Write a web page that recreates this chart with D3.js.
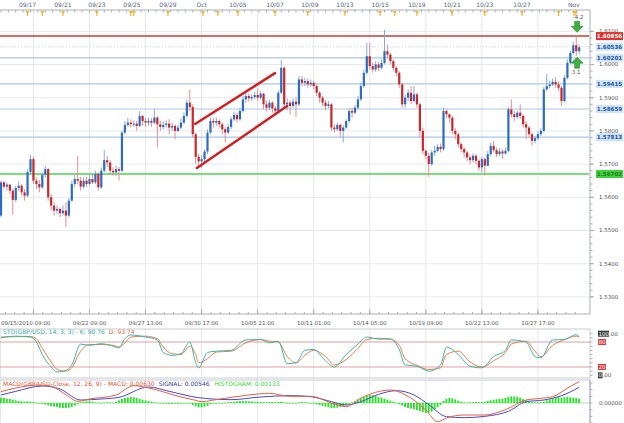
<!DOCTYPE html>
<html><head><meta charset="utf-8">
<script src="https://cdn.jsdelivr.net/npm/d3@7"></script>
<style>
html,body{margin:0;padding:0;background:#fff;}
svg{display:block;font-family:"DejaVu Sans",Verdana,sans-serif;}
</style></head><body>
<svg id="c" width="624" height="423"></svg>
<script>
// ---------- DATA (GBP/USD, 4-hour candles, 09/15/2010 09:00 → Nov 1) ----------
const firstOpen = 1.5545;
const closes = [
1.5645,1.5632,1.5638,1.5620,1.5592,1.5628,1.5635,1.5615,1.5605,1.5676,
1.5715,1.5650,1.5640,1.5630,1.5668,1.5685,1.5600,1.5575,1.5560,1.5565,
1.5552,1.5560,1.5545,1.5590,1.5640,1.5655,1.5650,1.5632,1.5650,1.5640,
1.5655,1.5645,1.5670,1.5630,1.5680,1.5712,1.5705,1.5680,1.5675,1.5685,
1.5680,1.5795,1.5818,1.5825,1.5820,1.5822,1.5815,1.5845,1.5830,1.5825,
1.5830,1.5825,1.5840,1.5820,1.5812,1.5818,1.5822,1.5810,1.5815,1.5800,
1.5810,1.5825,1.5845,1.5885,1.5872,1.5790,1.5722,1.5708,1.5715,1.5738,
1.5795,1.5830,1.5825,1.5830,1.5820,1.5805,1.5795,1.5812,1.5835,1.5848,
1.5835,1.5860,1.5895,1.5905,1.5898,1.5902,1.5908,1.5900,1.5912,1.5880,
1.5870,1.5885,1.5868,1.5860,1.5915,1.5990,1.5880,1.5885,1.5875,1.5888,
1.5880,1.5955,1.5945,1.5950,1.5940,1.5945,1.5935,1.5915,1.5900,1.5885,
1.5875,1.5880,1.5810,1.5805,1.5818,1.5800,1.5810,1.5830,1.5860,1.5855,
1.5870,1.5895,1.5935,1.5975,1.6025,1.5995,1.5985,1.6000,1.5990,1.6005,
1.6040,1.6030,1.6010,1.5990,1.5975,1.5940,1.5880,1.5900,1.5915,1.5890,
1.5910,1.5880,1.5800,1.5740,1.5725,1.5700,1.5735,1.5740,1.5752,1.5745,
1.5860,1.5850,1.5840,1.5800,1.5790,1.5760,1.5745,1.5735,1.5720,1.5712,
1.5725,1.5710,1.5690,1.5715,1.5695,1.5730,1.5755,1.5742,1.5730,1.5738,
1.5732,1.5740,1.5865,1.5850,1.5842,1.5855,1.5845,1.5820,1.5810,1.5790,
1.5770,1.5778,1.5790,1.5800,1.5925,1.5935,1.5940,1.5948,1.5940,1.5930,
1.5890,1.5960,1.6005,1.6035,1.6058,1.6040,1.6052];
const highs = [
1.5650,1.5650,1.5645,1.5640,1.5625,1.5635,1.5648,1.5640,1.5625,1.5685,
1.5727,1.5722,1.5660,1.5652,1.5675,1.5695,1.5688,1.5610,1.5585,1.5575,
1.5570,1.5575,1.5585,1.5598,1.5650,1.5668,1.5725,1.5662,1.5660,1.5662,
1.5668,1.5672,1.5680,1.5675,1.5690,1.5742,1.5725,1.5712,1.5690,1.5695,
1.5692,1.5800,1.5830,1.5840,1.5835,1.5832,1.5830,1.5860,1.5848,1.5838,
1.5840,1.5838,1.5865,1.5845,1.5830,1.5828,1.5832,1.5835,1.5825,1.5820,
1.5818,1.5838,1.5855,1.5895,1.5925,1.5880,1.5795,1.5730,1.5725,1.5745,
1.5805,1.5840,1.5838,1.5840,1.5835,1.5825,1.5812,1.5820,1.5842,1.5858,
1.5855,1.5868,1.5905,1.5915,1.5912,1.5910,1.5918,1.5928,1.5920,1.5915,
1.5892,1.5895,1.5890,1.5875,1.5922,1.6014,1.5995,1.5898,1.5892,1.5898,
1.5900,1.5965,1.5965,1.5960,1.5958,1.5955,1.5950,1.5940,1.5920,1.5905,
1.5892,1.5890,1.5885,1.5820,1.5825,1.5822,1.5818,1.5835,1.5868,1.5870,
1.5878,1.5905,1.5945,1.5985,1.6065,1.6065,1.6005,1.6010,1.6008,1.6015,
1.6104,1.6060,1.6035,1.6015,1.5995,1.5980,1.5945,1.5910,1.5925,1.5935,
1.5935,1.5915,1.5885,1.5810,1.5745,1.5735,1.5742,1.5755,1.5760,1.5762,
1.5870,1.5865,1.5852,1.5845,1.5808,1.5795,1.5765,1.5752,1.5740,1.5728,
1.5732,1.5730,1.5715,1.5722,1.5720,1.5740,1.5765,1.5770,1.5750,1.5748,
1.5745,1.5750,1.5872,1.5895,1.5860,1.5862,1.5880,1.5850,1.5830,1.5815,
1.5795,1.5785,1.5798,1.5808,1.5932,1.5972,1.5952,1.5958,1.5962,1.5948,
1.5935,1.5968,1.6015,1.6042,1.6068,1.6086,1.6060];
const lows = [
1.5540,1.5625,1.5620,1.5610,1.5547,1.5585,1.5620,1.5605,1.5590,1.5600,
1.5670,1.5640,1.5625,1.5615,1.5625,1.5660,1.5590,1.5560,1.5545,1.5550,
1.5540,1.5545,1.5511,1.5540,1.5585,1.5630,1.5640,1.5620,1.5625,1.5630,
1.5635,1.5640,1.5640,1.5620,1.5625,1.5675,1.5690,1.5670,1.5665,1.5665,
1.5650,1.5675,1.5790,1.5812,1.5810,1.5812,1.5800,1.5812,1.5815,1.5812,
1.5815,1.5812,1.5820,1.5750,1.5800,1.5805,1.5810,1.5790,1.5800,1.5775,
1.5795,1.5805,1.5820,1.5840,1.5860,1.5780,1.5700,1.5695,1.5688,1.5705,
1.5730,1.5790,1.5810,1.5815,1.5810,1.5790,1.5765,1.5790,1.5805,1.5830,
1.5825,1.5830,1.5855,1.5885,1.5888,1.5890,1.5895,1.5890,1.5895,1.5865,
1.5858,1.5862,1.5855,1.5848,1.5855,1.5910,1.5870,1.5862,1.5850,1.5870,
1.5842,1.5875,1.5935,1.5935,1.5930,1.5932,1.5925,1.5905,1.5885,1.5875,
1.5862,1.5868,1.5800,1.5795,1.5800,1.5780,1.5765,1.5805,1.5825,1.5840,
1.5850,1.5865,1.5890,1.5930,1.5970,1.5985,1.5975,1.5978,1.5980,1.5985,
1.6000,1.6020,1.6000,1.5980,1.5965,1.5930,1.5870,1.5870,1.5890,1.5880,
1.5885,1.5870,1.5780,1.5730,1.5715,1.5662,1.5695,1.5725,1.5735,1.5735,
1.5740,1.5838,1.5825,1.5790,1.5775,1.5750,1.5735,1.5720,1.5710,1.5700,
1.5705,1.5700,1.5680,1.5675,1.5665,1.5700,1.5725,1.5735,1.5722,1.5725,
1.5715,1.5728,1.5735,1.5840,1.5830,1.5835,1.5835,1.5810,1.5775,1.5780,
1.5755,1.5762,1.5772,1.5785,1.5795,1.5920,1.5928,1.5935,1.5930,1.5920,
1.5875,1.5885,1.5955,1.6000,1.6030,1.6025,1.6030];

// horizontal price levels drawn on the chart
const levelPrices = [1.60856, 1.60536, 1.60201, 1.59415, 1.58659, 1.57813, 1.56702];
const levelKinds  = ["red", "dotted", "blue", "blue", "blue", "blue", "green"];
// price axis ticks
const priceTicks = [1.61, 1.60, 1.59, 1.58, 1.57, 1.56, 1.55, 1.54, 1.53];
// top date labels (candle index position)
const topDates   = ["09/17","09/21","09/23","09/25","09/29","Oct","10/05","10/07","10/09","10/13","10/15","10/19","10/21","10/23","10/27","Nov"];
const topDateIdx = [9, 21, 32.5, 44.4, 56.6, 68, 80.3, 92.9, 104.7, 116.6, 128.5, 141, 152.9, 164, 176.6, 194.2];
const eventIdx   = [9, 14, 21, 32.5, 44, 45, 56.6, 68.5, 73.5, 80.3, 92.9, 104, 116.6, 128.5, 133.5, 141, 152.9, 164, 176.6, 189, 194.2, 194.9];
// bottom time labels
const bottomLabels   = ["09/15/2010 09:00","09/22 09:00","09/27 13:00","09/30 17:00","10/05 21:00","10/11 01:00","10/14 05:00","10/19 09:00","10/22 13:00","10/27 17:00"];
const bottomLabelIdx = [0, 30, 49, 68, 87, 106, 125, 144, 163, 182];
const gridIdx        = [11, 30, 49, 68, 87, 106, 125, 144, 163, 182];
// rising channel (drawn trend lines)
const channelIdx   = [[65.8, 92.9], [66.4, 97.0]];
const channelPrice = [[1.5821, 1.5974], [1.5688, 1.5875]];
// signal arrows
const arrowIdx   = [195.3, 195.3];
const arrowPrice = [1.6097, 1.6022];
const arrowDir   = ["down", "up"];
const arrowText  = ["-4.2", "3.1"];

// Stochastic (14,3,3)
const stochIdx = [0,5,10,12,14,17,19,22,24,27,30,34,38,40,42,44,49,53,55,58,61,64,66,67,70,73,78,83,88,91,94,97,100,103,106,110,113,117,121,124,128,132,135,137,141,145,149,151,155,159,163,167,171,173,178,181,183,187,191,195,196];
const stochK = [90,94,92,80,50,20,8,12,25,75,72,76,70,66,88,97,92,85,55,48,52,80,30,18,55,58,60,85,86,78,82,28,30,60,62,35,20,50,75,92,87,87,62,25,22,10,25,68,50,22,18,45,60,85,80,45,42,85,86,98,90.76];
const stochD = [92,93,93,88,65,32,14,10,18,58,74,74,72,68,78,92,94,88,68,52,50,70,50,30,40,56,58,78,86,82,80,45,30,48,60,45,25,38,65,86,89,87,72,40,24,14,18,50,58,32,20,35,55,75,82,58,45,72,86,94,93.74];

// MACD (12,26,9)
const macdIdx  = [0,5,13,17,22,26,30,39,45,50,61,66,68,73,84,91,98,105,112,117,122,127,132,137,144,148,151,157,164,171,178,183,187,193,196];
const macdLine = [0.0034,0.0045,0.0054,0.0050,0.0025,0.0005,0.0012,0.0024,0.0052,0.0045,0.0018,0.0008,0.0004,0.0010,0.0024,0.0029,0.0020,0.0020,0.0000,-0.0011,0.0015,0.0032,0.0039,0.0025,-0.0021,-0.0056,-0.0045,-0.0036,-0.0036,-0.0020,0.0009,0.0014,0.0019,0.0050,0.0064];
const signalIdx  = [0,5,14,20,27,34,40,50,57,67,78,88,98,105,112,117,122,128,134,140,145,151,157,164,172,178,184,190,196];
const signalLine = [0.0024,0.0035,0.0051,0.0042,0.0009,0.0012,0.0017,0.0048,0.0035,0.0016,0.0010,0.0018,0.0022,0.0019,0.0004,-0.0006,0.0004,0.0026,0.0037,0.0024,-0.0005,-0.0041,-0.0044,-0.0040,-0.0025,0.0004,0.0009,0.0022,0.0047];
const histogram = [
0.0016,0.0015,0.0013,0.0012,0.0010,
0.0008,0.0006,0.0005,0.0004,0.0005,
0.0004,0.0003,0.0001,-0.0001,
-0.0003,-0.0005,-0.0007,-0.0009,-0.0011,-0.0012,-0.0014,-0.0015,-0.0015,-0.0014,-0.0012,-0.0008,-0.0004,
0.0002,0.0004,0.0005,0.0005,0.0004,0.0002,
0.0001,0.0000,0.0001,0.0002,0.0001,0.0001,
0.0004,0.0008,0.0012,0.0015,0.0017,0.0018,0.0017,0.0015,0.0012,
0.0010,0.0008,0.0006,0.0004,0.0002,0.0001,0.0000,
-0.0001,-0.0002,-0.0003,-0.0003,-0.0002,-0.0003,-0.0002,-0.0001,0.0000,-0.0002,
-0.0006,-0.0010,-0.0013,-0.0013,-0.0011,-0.0008,-0.0004,
-0.0002,0.0000,0.0001,0.0000,0.0001,0.0002,0.0003,
0.0004,0.0005,0.0006,0.0006,0.0006,0.0005,0.0005,0.0004,0.0004,0.0003,
0.0002,0.0002,0.0003,0.0003,0.0002,0.0003,0.0004,0.0002,
0.0001,0.0000,-0.0001,0.0000,0.0002,0.0003,0.0002,0.0001,0.0000,-0.0002,-0.0004,-0.0006,
-0.0009,-0.0011,-0.0013,-0.0015,-0.0015,-0.0014,-0.0012,-0.0009,-0.0006,-0.0002,0.0002,
0.0006,0.0010,0.0014,0.0018,0.0021,0.0024,0.0023,0.0021,0.0018,0.0016,0.0013,0.0010,0.0007,0.0004,0.0001,
-0.0004,-0.0008,-0.0012,-0.0015,-0.0017,-0.0019,-0.0021,-0.0024,-0.0027,-0.0030,-0.0029,-0.0026,-0.0020,-0.0013,-0.0006,
0.0006,0.0012,0.0015,0.0014,0.0011,0.0007,0.0004,
0.0002,0.0001,0.0002,0.0002,0.0003,0.0002,0.0003,0.0004,0.0006,
0.0008,0.0010,0.0011,0.0012,0.0013,0.0015,0.0018,0.0020,0.0020,0.0019,0.0016,0.0012,0.0008,0.0005,
0.0003,0.0002,0.0001,0.0002,0.0004,0.0008,0.0011,
0.0014,0.0016,0.0017,0.0016,0.0017,0.0018,0.0017,0.0016,0.0015,0.0013];

// ---------- DRAWING ----------
const svg = d3.select("#c");
const plotR = 590, mainTop = 10, mainBot = 314;
const stTop = 329, stBot = 378, mTop = 380, mBot = 423;
const n = closes.length;
const x = d3.scaleLinear().domain([0, n - 1]).range([1, 579.2]);
const y = d3.scaleLinear().domain([1.53, 1.61]).range([296.9, 31.3]);
const yS = d3.scaleLinear().domain([0, 100]).range([375.3, 333.7]);
const yM = d3.scaleLinear().domain([-0.006, 0.0069]).range([423, 380]);

const candles = closes.map((c, i) => {
  const o = i === 0 ? firstOpen : closes[i - 1];
  return {i, o, c, h: Math.max(highs[i], o, c), l: Math.min(lows[i], o, c)};
});

const defs = svg.append("defs");
defs.append("clipPath").attr("id", "mainClip").append("rect")
  .attr("x", 0).attr("y", mainTop).attr("width", plotR).attr("height", mainBot - mainTop);
defs.append("clipPath").attr("id", "stClip").append("rect")
  .attr("x", 0).attr("y", stTop).attr("width", plotR).attr("height", stBot - stTop);
defs.append("clipPath").attr("id", "mClip").append("rect")
  .attr("x", 0).attr("y", mTop).attr("width", plotR).attr("height", mBot - mTop);

// vertical gridlines across all panels
const grid = svg.append("g");
[[mainTop, mainBot], [stTop, stBot], [mTop, mBot]].forEach(([a, b]) => {
  grid.selectAll(null).data(gridIdx).enter().append("line")
    .attr("x1", d => x(d)).attr("x2", d => x(d)).attr("y1", a).attr("y2", b)
    .attr("stroke", "#e3e6ea").attr("stroke-width", 1);
});
// horizontal price gridlines
grid.selectAll(null).data(priceTicks).enter().append("line")
  .attr("x1", 0).attr("x2", plotR).attr("y1", d => y(d)).attr("y2", d => y(d))
  .attr("stroke", "#e6e8eb").attr("stroke-width", 1);

// level lines
const lvl = svg.append("g").attr("clip-path", "url(#mainClip)");
levelPrices.forEach((p, k) => {
  const kind = levelKinds[k];
  const line = lvl.append("line").attr("x1", 0).attr("x2", plotR - 1)
    .attr("y1", y(p)).attr("y2", y(p));
  if (kind === "red") line.attr("stroke", "#c83a3a").attr("stroke-width", 1.5);
  else if (kind === "green") line.attr("stroke", "#4cd44c").attr("stroke-width", 1.6);
  else if (kind === "dotted") line.attr("stroke", "#b9d3ec").attr("stroke-width", 1).attr("stroke-dasharray", "1,2");
  else line.attr("stroke", "#aac8e6").attr("stroke-width", 1.2);
});

// candles
const cg = svg.append("g").attr("clip-path", "url(#mainClip)");
cg.selectAll(".wick").data(candles).enter().append("line")
  .attr("x1", d => x(d.i)).attr("x2", d => x(d.i))
  .attr("y1", d => y(d.h)).attr("y2", d => y(d.l))
  .attr("stroke", d => d.c >= d.o ? "#86aadb" : "#e28f8f").attr("stroke-width", 1);
cg.selectAll(".body").data(candles).enter().append("rect")
  .attr("x", d => x(d.i) - 1.1).attr("width", 2.2)
  .attr("y", d => y(Math.max(d.o, d.c)))
  .attr("height", d => Math.max(1, Math.abs(y(d.o) - y(d.c))))
  .attr("fill", d => d.c >= d.o ? "#2d6cc4" : "#c8282c");

// channel lines
channelIdx.forEach((ix, k) => {
  cg.append("line")
    .attr("x1", x(ix[0])).attr("y1", y(channelPrice[k][0]))
    .attr("x2", x(ix[1])).attr("y2", y(channelPrice[k][1]))
    .attr("stroke", "#d41f1f").attr("stroke-width", 2.4).attr("stroke-linecap", "round");
});

// arrows
arrowIdx.forEach((ix, k) => {
  const cx = x(ix), ty = y(arrowPrice[k]);
  const s = arrowDir[k] === "down" ? -1 : 1; // tip at ty, body extends away
  const pts = [[0, 0], [6, 6 * s], [2.5, 6 * s], [2.5, 11 * s], [-2.5, 11 * s], [-2.5, 6 * s], [-6, 6 * s]];
  svg.append("path").attr("d", "M" + pts.map(p => [cx + p[0], ty + p[1]].join(",")).join("L") + "Z")
    .attr("fill", "#3fae3f").attr("stroke", "#2a8a2a").attr("stroke-width", 0.6);
  svg.append("text").attr("x", cx + (s < 0 ? 1 : -1)).attr("y", s < 0 ? ty - 13 : ty + 17)
    .attr("text-anchor", "middle").attr("font-size", 5.5).attr("fill", "#555").text(arrowText[k]);
});

// main panel axes
const ax = svg.append("g");
ax.append("line").attr("x1", 0).attr("x2", plotR).attr("y1", mainTop).attr("y2", mainTop).attr("stroke", "#a8aeb6");
ax.append("line").attr("x1", 0).attr("x2", plotR).attr("y1", mainBot).attr("y2", mainBot).attr("stroke", "#a8aeb6");
ax.append("line").attr("x1", plotR).attr("x2", plotR).attr("y1", mainTop).attr("y2", mainBot).attr("stroke", "#a8aeb6");
// top minor ticks
const topTicks = d3.range(0, n, 2.5);
ax.selectAll(null).data(topTicks).enter().append("line")
  .attr("x1", d => x(d)).attr("x2", d => x(d)).attr("y1", mainTop).attr("y2", mainTop + 2.5)
  .attr("stroke", "#a8aeb6");
// event markers
ax.selectAll(null).data(eventIdx).enter().append("path")
  .attr("d", d => `M${x(d) - 2},${mainTop + 1}L${x(d) + 2},${mainTop + 1}L${x(d) + 0.6},${mainTop + 3.5}L${x(d) + 0.6},${mainTop + 6}L${x(d) - 0.6},${mainTop + 6}L${x(d) - 0.6},${mainTop + 3.5}Z`)
  .attr("fill", "#f2b630");
// top date labels
ax.selectAll(null).data(topDates).enter().append("text")
  .attr("x", (d, k) => x(topDateIdx[k])).attr("y", 7)
  .attr("text-anchor", "middle").attr("font-size", 6).attr("fill", "#56657a").text(d => d);
// bottom ticks
const botMinor = d3.range(11 - 19, n, 19 / 6).filter(v => v >= 0);
ax.selectAll(null).data(botMinor).enter().append("line")
  .attr("x1", d => x(d)).attr("x2", d => x(d)).attr("y1", mainBot - 2).attr("y2", mainBot)
  .attr("stroke", "#a8aeb6");
ax.selectAll(null).data(gridIdx).enter().append("line")
  .attr("x1", d => x(d)).attr("x2", d => x(d)).attr("y1", mainBot - 5).attr("y2", mainBot)
  .attr("stroke", "#a8aeb6");
ax.selectAll(null).data(bottomLabels).enter().append("text")
  .attr("x", (d, k) => k === 0 ? 1 : x(bottomLabelIdx[k]))
  .attr("y", 325).attr("text-anchor", (d, k) => k === 0 ? "start" : "middle")
  .attr("font-size", 5.5).attr("fill", "#555").text(d => d);

// right price axis
const rTicks = d3.range(1.53, 1.6101, 0.002);
ax.selectAll(null).data(rTicks).enter().append("line")
  .attr("x1", plotR).attr("x2", plotR + 2.5).attr("y1", d => y(d)).attr("y2", d => y(d)).attr("stroke", "#a8aeb6");
ax.selectAll(null).data(priceTicks).enter().append("line")
  .attr("x1", plotR).attr("x2", plotR + 4).attr("y1", d => y(d)).attr("y2", d => y(d)).attr("stroke", "#a8aeb6");
ax.selectAll(null).data(priceTicks).enter().append("text")
  .attr("x", 599).attr("y", d => y(d)).attr("dy", "0.35em")
  .attr("font-size", 5.5).attr("fill", "#555").text(d => d.toFixed(4));

// price tags
levelPrices.forEach((p, k) => {
  const kind = levelKinds[k];
  const fill = kind === "red" ? "#e0302c" : kind === "green" ? "#3fd23f" : "#cfe3f7";
  const tc = kind === "red" ? "#ffffff" : kind === "green" ? "#237a23" : "#24589c";
  ax.append("rect").attr("x", 596).attr("y", y(p) - 4).attr("width", 27).attr("height", 8).attr("fill", fill);
  ax.append("text").attr("x", 609.5).attr("y", y(p)).attr("dy", "0.36em")
    .attr("text-anchor", "middle").attr("font-size", 5.6).attr("font-weight", "bold")
    .attr("fill", tc).text(p.toFixed(5));
});

// ---------- Stochastic panel ----------
const st = svg.append("g");
st.append("rect").attr("x", 0).attr("y", stTop).attr("width", plotR).attr("height", stBot - stTop)
  .attr("fill", "none").attr("stroke", "#c8ccd2");
[80, 20].forEach(v => st.append("line").attr("x1", 0).attr("x2", plotR).attr("y1", yS(v)).attr("y2", yS(v))
  .attr("stroke", "#dfa0a0").attr("stroke-width", 1));
const stl = st.append("g").attr("clip-path", "url(#stClip)");
const lineS = (vals) => d3.line().x((d, k) => x(stochIdx[k])).y(d => yS(d)).curve(d3.curveMonotoneX)(vals);
stl.append("path").attr("d", lineS(stochD)).attr("fill", "none").attr("stroke", "#e2804e").attr("stroke-width", 1);
stl.append("path").attr("d", lineS(stochK)).attr("fill", "none").attr("stroke", "#3db5a6").attr("stroke-width", 1);
d3.range(0, 101, 10).forEach(v => st.append("line").attr("x1", plotR).attr("x2", plotR + 2.5)
  .attr("y1", yS(v)).attr("y2", yS(v)).attr("stroke", "#a8aeb6"));
const stLab = st.append("text").attr("x", 3).attr("y", 334).attr("font-size", 6);
stLab.append("tspan").attr("fill", "#3aa89c").text("STO(GBP/USD, 14, 3, 3) -  K: " + stochK[stochK.length - 1].toFixed(2));
stLab.append("tspan").attr("dx", 4).attr("fill", "#d2703e").text("D: " + stochD[stochD.length - 1].toFixed(2));
// right labels
st.append("rect").attr("x", 598).attr("y", yS(100) - 3).attr("width", 11).attr("height", 6).attr("fill", "#3a3a3a");
st.append("text").attr("x", 598.5).attr("y", yS(100)).attr("dy", "0.35em").attr("font-size", 5.5).attr("fill", "#fff").text("100");
st.append("text").attr("x", 609).attr("y", yS(100)).attr("dy", "0.35em").attr("font-size", 5.5).attr("fill", "#555").text(".00");
[80, 20].forEach(v => {
  st.append("rect").attr("x", 598).attr("y", yS(v) - 3).attr("width", 8).attr("height", 6).attr("fill", "#d83a3a");
  st.append("text").attr("x", 598.5).attr("y", yS(v)).attr("dy", "0.35em").attr("font-size", 5.5).attr("fill", "#fff").text(v);
});
st.append("rect").attr("x", 598).attr("y", yS(0) - 3).attr("width", 4.5).attr("height", 6).attr("fill", "#3a3a3a");
st.append("text").attr("x", 598.5).attr("y", yS(0)).attr("dy", "0.35em").attr("font-size", 5.5).attr("fill", "#fff").text("0");
st.append("text").attr("x", 602.5).attr("y", yS(0)).attr("dy", "0.35em").attr("font-size", 5.5).attr("fill", "#555").text(".00");

// ---------- MACD panel ----------
const mg = svg.append("g");
mg.append("rect").attr("x", 0).attr("y", mTop).attr("width", plotR).attr("height", mBot - mTop + 2)
  .attr("fill", "none").attr("stroke", "#c8ccd2");
const mc = mg.append("g").attr("clip-path", "url(#mClip)");
mc.append("line").attr("x1", 0).attr("x2", plotR).attr("y1", yM(0)).attr("y2", yM(0)).attr("stroke", "#9adf9a").attr("stroke-width", 0.8);
mc.selectAll(null).data(histogram).enter().append("rect")
  .attr("x", (d, i) => x(i) - 1).attr("width", 1.9)
  .attr("y", d => Math.min(yM(0), yM(d))).attr("height", d => Math.max(0.6, Math.abs(yM(d) - yM(0))))
  .attr("fill", "#2fe02f");
const lineM = (idx) => d3.line().x((d, k) => x(idx[k])).y(d => yM(d)).curve(d3.curveMonotoneX);
mc.append("path").attr("d", lineM(signalIdx)(signalLine)).attr("fill", "none").attr("stroke", "#4a46c8").attr("stroke-width", 1);
mc.append("path").attr("d", lineM(macdIdx)(macdLine)).attr("fill", "none").attr("stroke", "#e2603e").attr("stroke-width", 1);
d3.range(-0.006, 0.007, 0.002).forEach(v => mg.append("line").attr("x1", plotR).attr("x2", plotR + 2.5)
  .attr("y1", yM(v)).attr("y2", yM(v)).attr("stroke", "#a8aeb6"));
mg.append("line").attr("x1", plotR).attr("x2", plotR).attr("y1", mTop).attr("y2", mBot).attr("stroke", "#a8aeb6");
mg.append("text").attr("x", 599).attr("y", yM(0)).attr("dy", "0.35em").attr("font-size", 5.5).attr("fill", "#555").text("0.00000");
const mLab = mg.append("text").attr("x", 3).attr("y", 385.5).attr("font-size", 6);
mLab.append("tspan").attr("fill", "#d8553a").text("MACD(GBP/USD-Close, 12, 26, 9) -  MACD: 0.00630");
mLab.append("tspan").attr("dx", 4).attr("fill", "#3a3a9a").text("SIGNAL: 0.00546");
mLab.append("tspan").attr("dx", 5).attr("fill", "#3fd23f").text("HISTOGRAM: 0.00133");
</script>
</body></html>
